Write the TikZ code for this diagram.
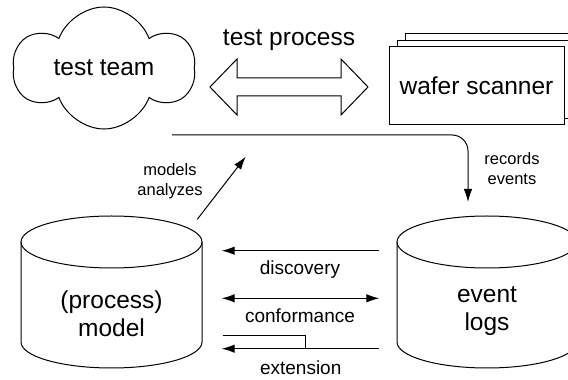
\documentclass[tikz,border=0pt]{standalone}
\usepackage{fontspec}
\setmainfont{Liberation Sans}
\usetikzlibrary{arrows.meta,shapes.symbols,shadows,calc}

\tikzset{
  bigtxt/.style={font=\fontsize{24.5}{28}\selectfont, align=center},
  midtxt/.style={font=\fontsize{19}{22}\selectfont, align=center},
  smalltxt/.style={font=\fontsize{16.5}{20}\selectfont, align=center},
  flow/.style={line width=1pt, -{Latex[length=13pt,width=8.5pt]}},
}

\begin{document}
\begin{tikzpicture}[x=1pt, y=1pt, line width=1pt]
\useasboundingbox (0,0) rectangle (568,380);

% the team and the scanner
\node[cloud, draw, cloud puffs=6, cloud puff arc=140, cloud ignores aspect,
      minimum width=180pt, minimum height=122pt, bigtxt] (team) at (104,312) {test team};
\node[draw, fill=white, minimum width=175pt, minimum height=78pt, bigtxt,
      double copy shadow={shadow xshift=8pt, shadow yshift=6.5pt}] (scanner) at (476.5,294) {wafer scanner};

% test process (double arrow)
\node[bigtxt] (process) at (289,340) {test process};
\draw (210,293) -- (237,321) -- (237,302) -- (341,302) -- (341,321) -- (368,293)
   -- (341,265) -- (341,284) -- (237,284) -- (237,265) -- cycle;

% the two stores
\foreach \cx/\rx/\name/\txt/\ty in {111.5/90.5/model/{(process)\\model}/66, 487/90/logs/{event\\logs}/69} {
  \draw (\cx-\rx,138) -- (\cx-\rx,38) arc[start angle=180, end angle=360, x radius=\rx pt, y radius=26pt]
     -- (\cx+\rx,138);
  \draw (\cx,138) ellipse[x radius=\rx pt, y radius=26pt];
  \node[bigtxt] (\name) at (\cx,\ty) {\txt};
}

% records events
\coordinate (rec-start) at (172,245);
\coordinate (rec-end) at (468,178);
\draw[flow, rounded corners=16pt] (rec-start) -- (rec-start -| rec-end) -- (rec-end);
\node[smalltxt] (records) at (512,211.5) {records\\events};

% models analyzes
\coordinate (ana-start) at (197.3,160.7);
\coordinate (ana-end) at (245.7,223.3);
\draw[flow] (ana-start) -- (ana-end);
\node[smalltxt] (analyzes) at (170,198.3) {models\\analyzes};

% discovery, conformance, extension
\coordinate (lft) at (221.7,0);
\coordinate (rgt) at (379.3,0);
\draw[flow] (rgt |- 0,129.3) -- (lft |- 0,129.3);
\node[midtxt] (discovery) at (300,110.7) {discovery};
\draw[flow, {Latex[length=13pt,width=8.5pt]}-{Latex[length=13pt,width=8.5pt]}] (lft |- 0,81.7) -- (rgt |- 0,81.7);
\node[midtxt] (conformance) at (300,64) {conformance};
\draw (222.7,44) -- (305.7,44) -- (305.7,31.3);
\draw[flow] (rgt |- 0,31.3) -- (lft |- 0,31.3);
\node[midtxt] (extension) at (300.7,12.7) {extension};
\end{tikzpicture}
\end{document}
